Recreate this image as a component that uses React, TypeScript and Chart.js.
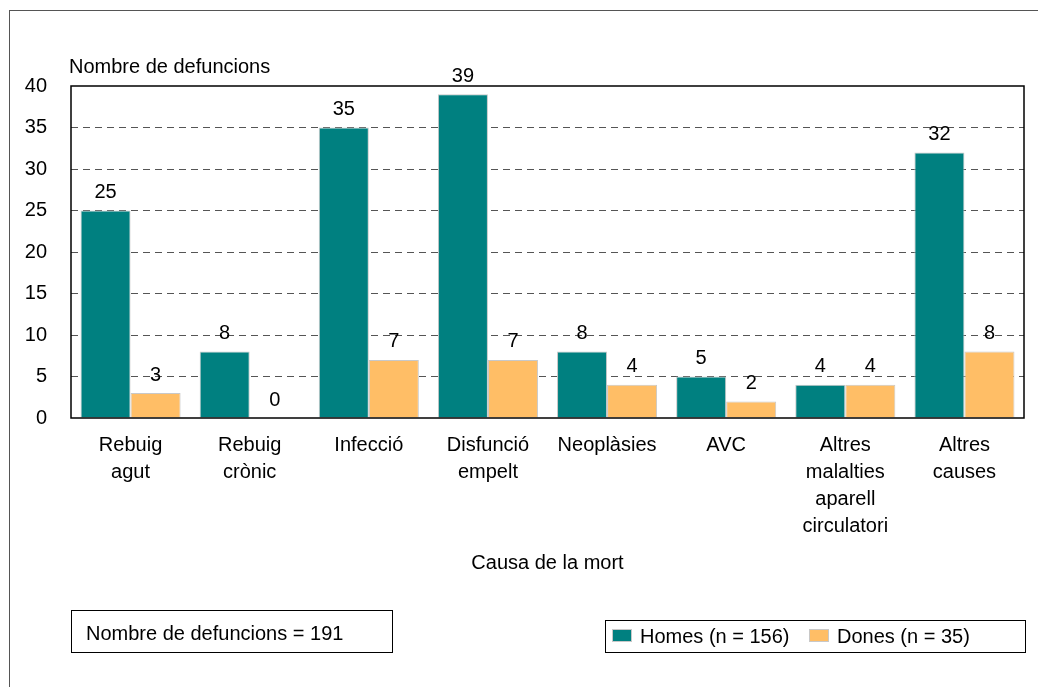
import React, { useEffect, useRef } from "react";
import { Chart, registerables } from "chart.js";

Chart.register(...registerables);

const categories: (string | string[])[] = [
  ["Rebuig", "agut"],
  ["Rebuig", "crònic"],
  "Infecció",
  ["Disfunció", "empelt"],
  "Neoplàsies",
  "AVC",
  ["Altres", "malalties", "aparell", "circulatori"],
  ["Altres", "causes"],
];
const homes = [25, 8, 35, 39, 8, 5, 4, 32];
const dones = [3, 0, 7, 7, 4, 2, 4, 8];
const seriesNames = ["Homes (n = 156)", "Dones (n = 35)"];
const yTitle = "Nombre de defuncions";
const xTitle = "Causa de la mort";
const totalNote = "Nombre de defuncions = 191";
const yTicks = [0, 5, 10, 15, 20, 25, 30, 35, 40];

const TEAL = "#008080";
const ORANGE = "#FFBE66";
const FONT = "Arial, 'Liberation Sans', Helvetica, sans-serif";

const decorPlugin = {
  id: "decor",
  beforeDraw(chart: any) {
    const ctx = chart.ctx;
    ctx.save();
    ctx.fillStyle = "#ffffff";
    ctx.fillRect(0, 0, chart.width, chart.height);
    ctx.restore();
  },
  afterDraw(chart: any) {
    const ctx = chart.ctx;
    const area = chart.chartArea;
    ctx.save();
    // outer frame
    ctx.strokeStyle = "#555555";
    ctx.lineWidth = 1;
    ctx.strokeRect(9.5, 10.5, 1100, 800);
    // plot border
    ctx.strokeStyle = "#000000";
    ctx.lineWidth = 1.5;
    ctx.strokeRect(area.left, area.top, area.right - area.left, area.bottom - area.top);

    // data labels
    ctx.fillStyle = "#000000";
    ctx.font = `20px ${FONT}`;
    ctx.textAlign = "center";
    ctx.textBaseline = "middle";
    chart.data.datasets.forEach((ds: any, di: number) => {
      const meta = chart.getDatasetMeta(di);
      meta.data.forEach((bar: any, i: number) => {
        ctx.fillText(String(ds.data[i]), bar.x, bar.y - 18);
      });
    });

    // y title
    ctx.textAlign = "left";
    ctx.fillText(yTitle, 69, 67);

    // x title
    ctx.textAlign = "center";
    ctx.fillText(xTitle, (area.left + area.right) / 2, 563);

    // note box
    ctx.lineWidth = 1;
    ctx.strokeStyle = "#000000";
    ctx.strokeRect(71.5, 610.5, 321, 42);
    ctx.textAlign = "left";
    ctx.fillText(totalNote, 86, 634);

    // legend box
    ctx.strokeRect(605.5, 620.5, 420, 32);
    const colors = [TEAL, ORANGE];
    const xs = [612, 809];
    seriesNames.forEach((name, i) => {
      ctx.fillStyle = colors[i];
      ctx.fillRect(xs[i], 629, 20, 13);
      ctx.strokeStyle = "#C8C8C8";
      ctx.strokeRect(xs[i] + 0.5, 629.5, 19, 12);
      ctx.fillStyle = "#000000";
      ctx.fillText(name, xs[i] + 28, 637);
    });
    ctx.restore();
  },
};

export default function App() {
  const ref = useRef<HTMLCanvasElement>(null);
  useEffect(() => {
    if (!ref.current) return;
    const chart = new Chart(ref.current, {
      type: "bar",
      data: {
        labels: categories,
        datasets: [
          {
            label: seriesNames[0],
            data: homes,
            backgroundColor: TEAL,
            borderColor: "#C8C8C8",
            borderWidth: 1,
            categoryPercentage: 0.84,
            barPercentage: 1,
          },
          {
            label: seriesNames[1],
            data: dones,
            backgroundColor: ORANGE,
            borderColor: "#C8C8C8",
            borderWidth: 1,
            categoryPercentage: 0.84,
            barPercentage: 1,
          },
        ],
      },
      options: {
        animation: false,
        responsive: false,
        maintainAspectRatio: false,
        layout: { padding: { top: 86, right: 14, left: 0, bottom: 0 } },
        plugins: {
          legend: { display: false },
          tooltip: { enabled: false },
        },
        scales: {
          x: {
            grid: { display: false, drawTicks: false },
            border: { display: false },
            ticks: {
              color: "#000000",
              font: { family: FONT, size: 20, lineHeight: "27px" },
              padding: 14,
              maxRotation: 0,
              autoSkip: false,
            },
            afterFit: (scale: any) => {
              scale.height = 269;
            },
          },
          y: {
            min: 0,
            max: 40,
            afterBuildTicks: (scale: any) => {
              scale.ticks = yTicks.map((v) => ({ value: v }));
            },
            grid: {
              drawTicks: false,
              color: (c: any) =>
                c.tick && (c.tick.value === 0 || c.tick.value === 40)
                  ? "rgba(0,0,0,0)"
                  : "#555555",
              lineWidth: 1,
            },
            border: { display: false, dash: [7, 5] },
            ticks: {
              color: "#000000",
              font: { family: FONT, size: 20 },
              padding: 24,
            },
            afterFit: (scale: any) => {
              scale.width = 71;
            },
          },
        },
      },
      plugins: [decorPlugin],
    });
    return () => chart.destroy();
  }, []);
  return (
    <div style={{ position: "fixed", left: 0, top: 0, width: 1038, height: 687, background: "#fff" }}>
      <canvas ref={ref} width={1038} height={687} style={{ width: 1038, height: 687, display: "block" }} />
    </div>
  );
}
